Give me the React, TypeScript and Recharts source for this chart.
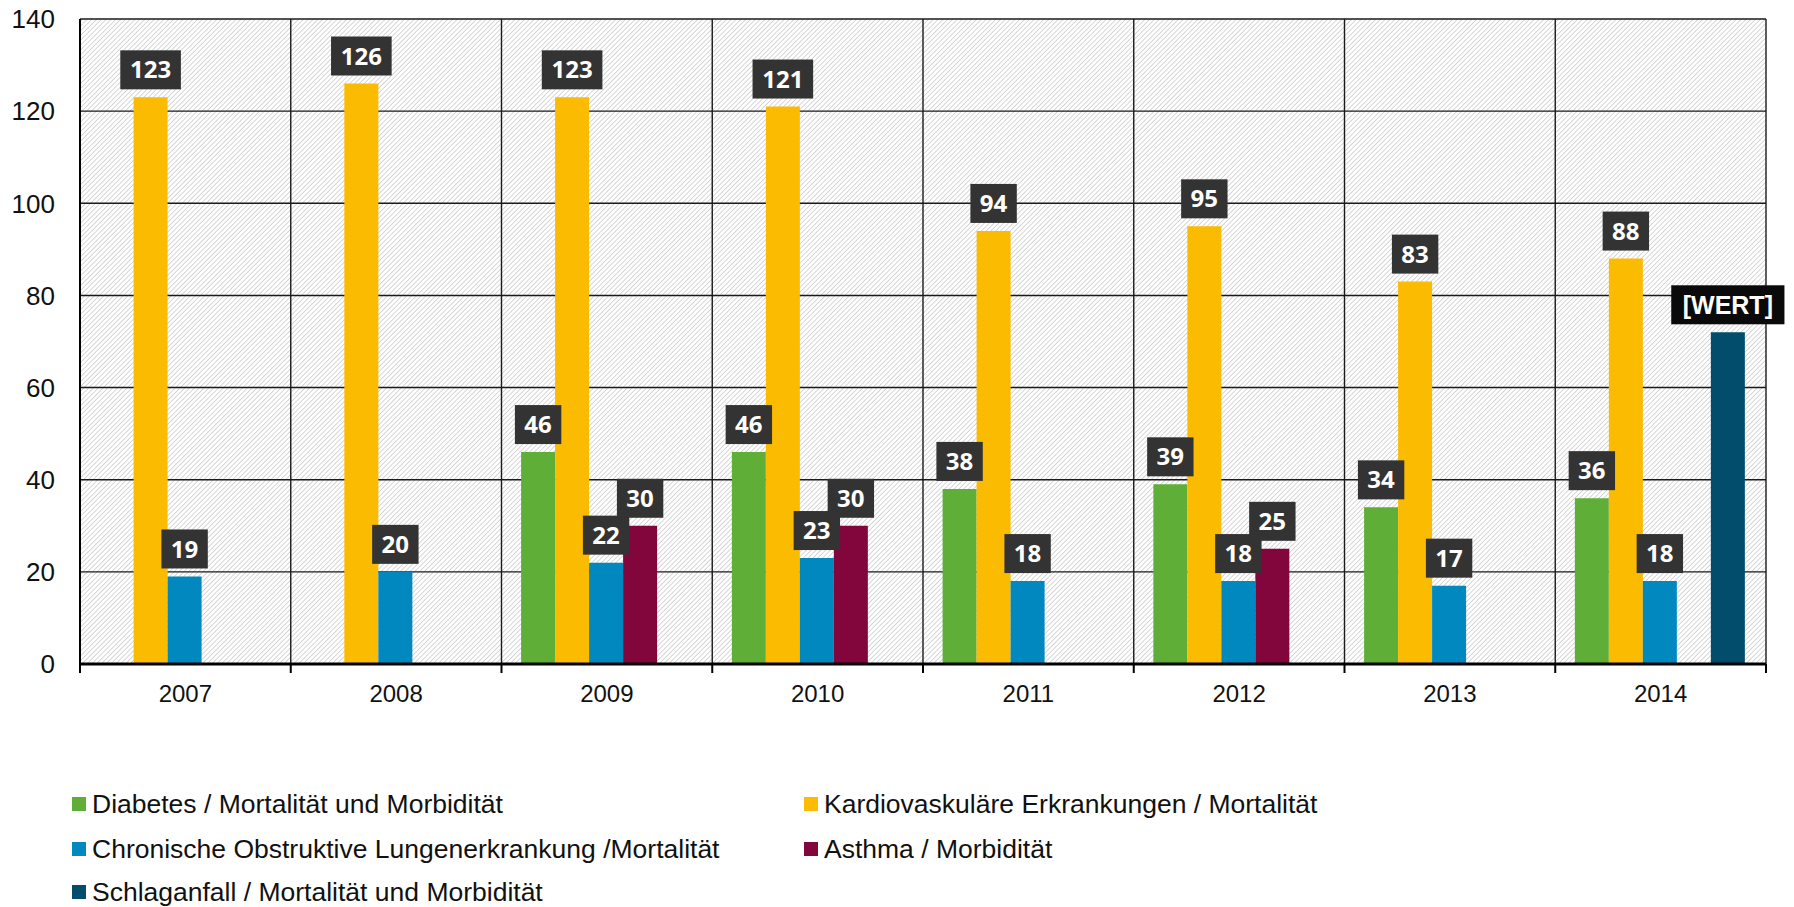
import { BarChart, Bar, XAxis, YAxis, CartesianGrid, LabelList } from 'recharts'

// Values
const YEARS = ['2007', '2008', '2009', '2010', '2011', '2012', '2013', '2014']
const DIABETES = [null, null, 46, 46, 38, 39, 34, 36]
const KARDIO = [123, 126, 123, 121, 94, 95, 83, 88]
const COPD = [19, 20, 22, 23, 18, 18, 17, 18]
const ASTHMA = [null, null, 30, 30, null, 25, null, null]
const SCHLAGANFALL = [null, null, null, null, null, null, null, 72]
const Y_TICKS = [0, 20, 40, 60, 80, 100, 120, 140]

const SERIES = [
  { key: 'diabetes', name: 'Diabetes / Mortalität und Morbidität', color: '#5fae37', values: DIABETES, labelBg: '#333333', labelText: null },
  { key: 'kardio', name: 'Kardiovaskuläre Erkrankungen / Mortalität', color: '#fbbb00', values: KARDIO, labelBg: '#333333', labelText: null },
  { key: 'copd', name: 'Chronische Obstruktive Lungenerkrankung /Mortalität', color: '#0088bf', values: COPD, labelBg: '#333333', labelText: null },
  { key: 'asthma', name: 'Asthma / Morbidität', color: '#82063c', values: ASTHMA, labelBg: '#333333', labelText: null },
  { key: 'stroke', name: 'Schlaganfall / Mortalität und Morbidität', color: '#014d6b', values: SCHLAGANFALL, labelBg: '#0a0a0a', labelText: '[WERT]' },
]

const data = YEARS.map((year, i) => {
  const row: Record<string, string | number | null> = { year }
  SERIES.forEach((s) => { row[s.key] = s.values[i] })
  return row
})

// Chart geometry
const CHART_W = 1794
const CHART_H = 720
const MARGIN = { top: 19, right: 28, left: 0, bottom: 6 }
const Y_AXIS_W = 80
const X_AXIS_H = 50
const PLOT_LEFT = MARGIN.left + Y_AXIS_W
const PLOT_W = CHART_W - PLOT_LEFT - MARGIN.right
const PLOT_BOTTOM = CHART_H - MARGIN.bottom - X_AXIS_H
const BAND = PLOT_W / YEARS.length
const V_LINES = Array.from({ length: YEARS.length + 1 }, (_, i) => PLOT_LEFT + i * BAND)

const AXIS_FONT = '"Liberation Sans", Arial, sans-serif'
const LABEL_FONT = '"Open Sans", "Noto Sans", sans-serif'

function YearTick(props: any) {
  const { x, payload, index } = props
  const left = x - BAND / 2
  const right = x + BAND / 2
  return (
    <g>
      <line x1={left} x2={left} y1={PLOT_BOTTOM} y2={PLOT_BOTTOM + 9} stroke="#000" strokeWidth={2} />
      {index === YEARS.length - 1 && (
        <line x1={right} x2={right} y1={PLOT_BOTTOM} y2={PLOT_BOTTOM + 9} stroke="#000" strokeWidth={2} />
      )}
      <text x={x} y={PLOT_BOTTOM + 29} dy="0.36em" textAnchor="middle" fontSize={24} fill="#111" fontFamily={AXIS_FONT}>
        {payload.value}
      </text>
    </g>
  )
}

function makeLabel(bg: string, override: string | null) {
  return (props: any) => {
    const { x, y, width, value } = props
    if (value == null) return null
    const text = override ?? String(value)
    const isWert = override != null
    const charW = isWert ? 15.2 : 14.2
    const boxW = text.length * charW + (isWert ? 22 : 18)
    const boxH = 39
    const cx = x + width / 2
    const top = y - 8 - boxH
    return (
      <g>
        <rect x={cx - boxW / 2} y={top} width={boxW} height={boxH} fill={bg} />
        <text
          x={cx}
          y={top + boxH / 2}
          dy="0.36em"
          textAnchor="middle"
          fill="#fff"
          fontWeight={700}
          fontSize={isWert ? 25 : 24}
          fontFamily={isWert ? AXIS_FONT : LABEL_FONT}
        >
          {text}
        </text>
      </g>
    )
  }
}

function LegendItem({ color, name, left, cy }: { color: string; name: string; left: number; cy: number }) {
  return (
    <div style={{ position: 'absolute', left, top: cy - 16, height: 32, display: 'flex', alignItems: 'center', whiteSpace: 'nowrap' }}>
      <span style={{ width: 14, height: 14, background: color, display: 'inline-block', marginRight: 6 }} />
      <span style={{ fontFamily: AXIS_FONT, fontSize: 26.5, color: '#111' }}>{name}</span>
    </div>
  )
}

const LEGEND_POS = [
  { left: 72, cy: 804 },
  { left: 804, cy: 804 },
  { left: 72, cy: 849 },
  { left: 804, cy: 849 },
  { left: 72, cy: 892 },
]

export default function App() {
  return (
    <div style={{ position: 'absolute', left: 0, top: 0, width: CHART_W, height: 907, background: '#fff' }}>
      <BarChart width={CHART_W} height={CHART_H} data={data} margin={MARGIN} barCategoryGap="9.3%" barGap={0}>
        <defs>
          <pattern id="hatch" patternUnits="userSpaceOnUse" width={3.4} height={3.4} patternTransform="rotate(45)">
            <rect x={0} y={0} width={3.4} height={3.4} fill="#ffffff" />
            <line x1={0} y1={0} x2={0} y2={3.4} stroke="#c2c2c2" strokeWidth={1.3} />
          </pattern>
        </defs>
        <CartesianGrid
          fill="url(#hatch)"
          stroke="#1a1a1a"
          strokeWidth={1.4}
          verticalPoints={V_LINES}
        />
        <XAxis
          dataKey="year"
          height={X_AXIS_H}
          axisLine={{ stroke: '#000', strokeWidth: 3 }}
          tickLine={false}
          tick={<YearTick />}
          interval={0}
        />
        <YAxis
          width={Y_AXIS_W}
          domain={[0, 140]}
          ticks={Y_TICKS}
          interval={0}
          axisLine={{ stroke: '#000', strokeWidth: 2 }}
          tickLine={false}
          tickSize={0}
          tickMargin={25}
          tick={{ fontSize: 26, fill: '#111', fontFamily: AXIS_FONT }}
        />
        {SERIES.map((s) => (
          <Bar key={s.key} dataKey={s.key} name={s.name} fill={s.color} isAnimationActive={false}>
            <LabelList dataKey={s.key} content={makeLabel(s.labelBg, s.labelText)} />
          </Bar>
        ))}
      </BarChart>
      {SERIES.map((s, i) => (
        <LegendItem key={s.key} color={s.color} name={s.name} left={LEGEND_POS[i].left} cy={LEGEND_POS[i].cy} />
      ))}
    </div>
  )
}
